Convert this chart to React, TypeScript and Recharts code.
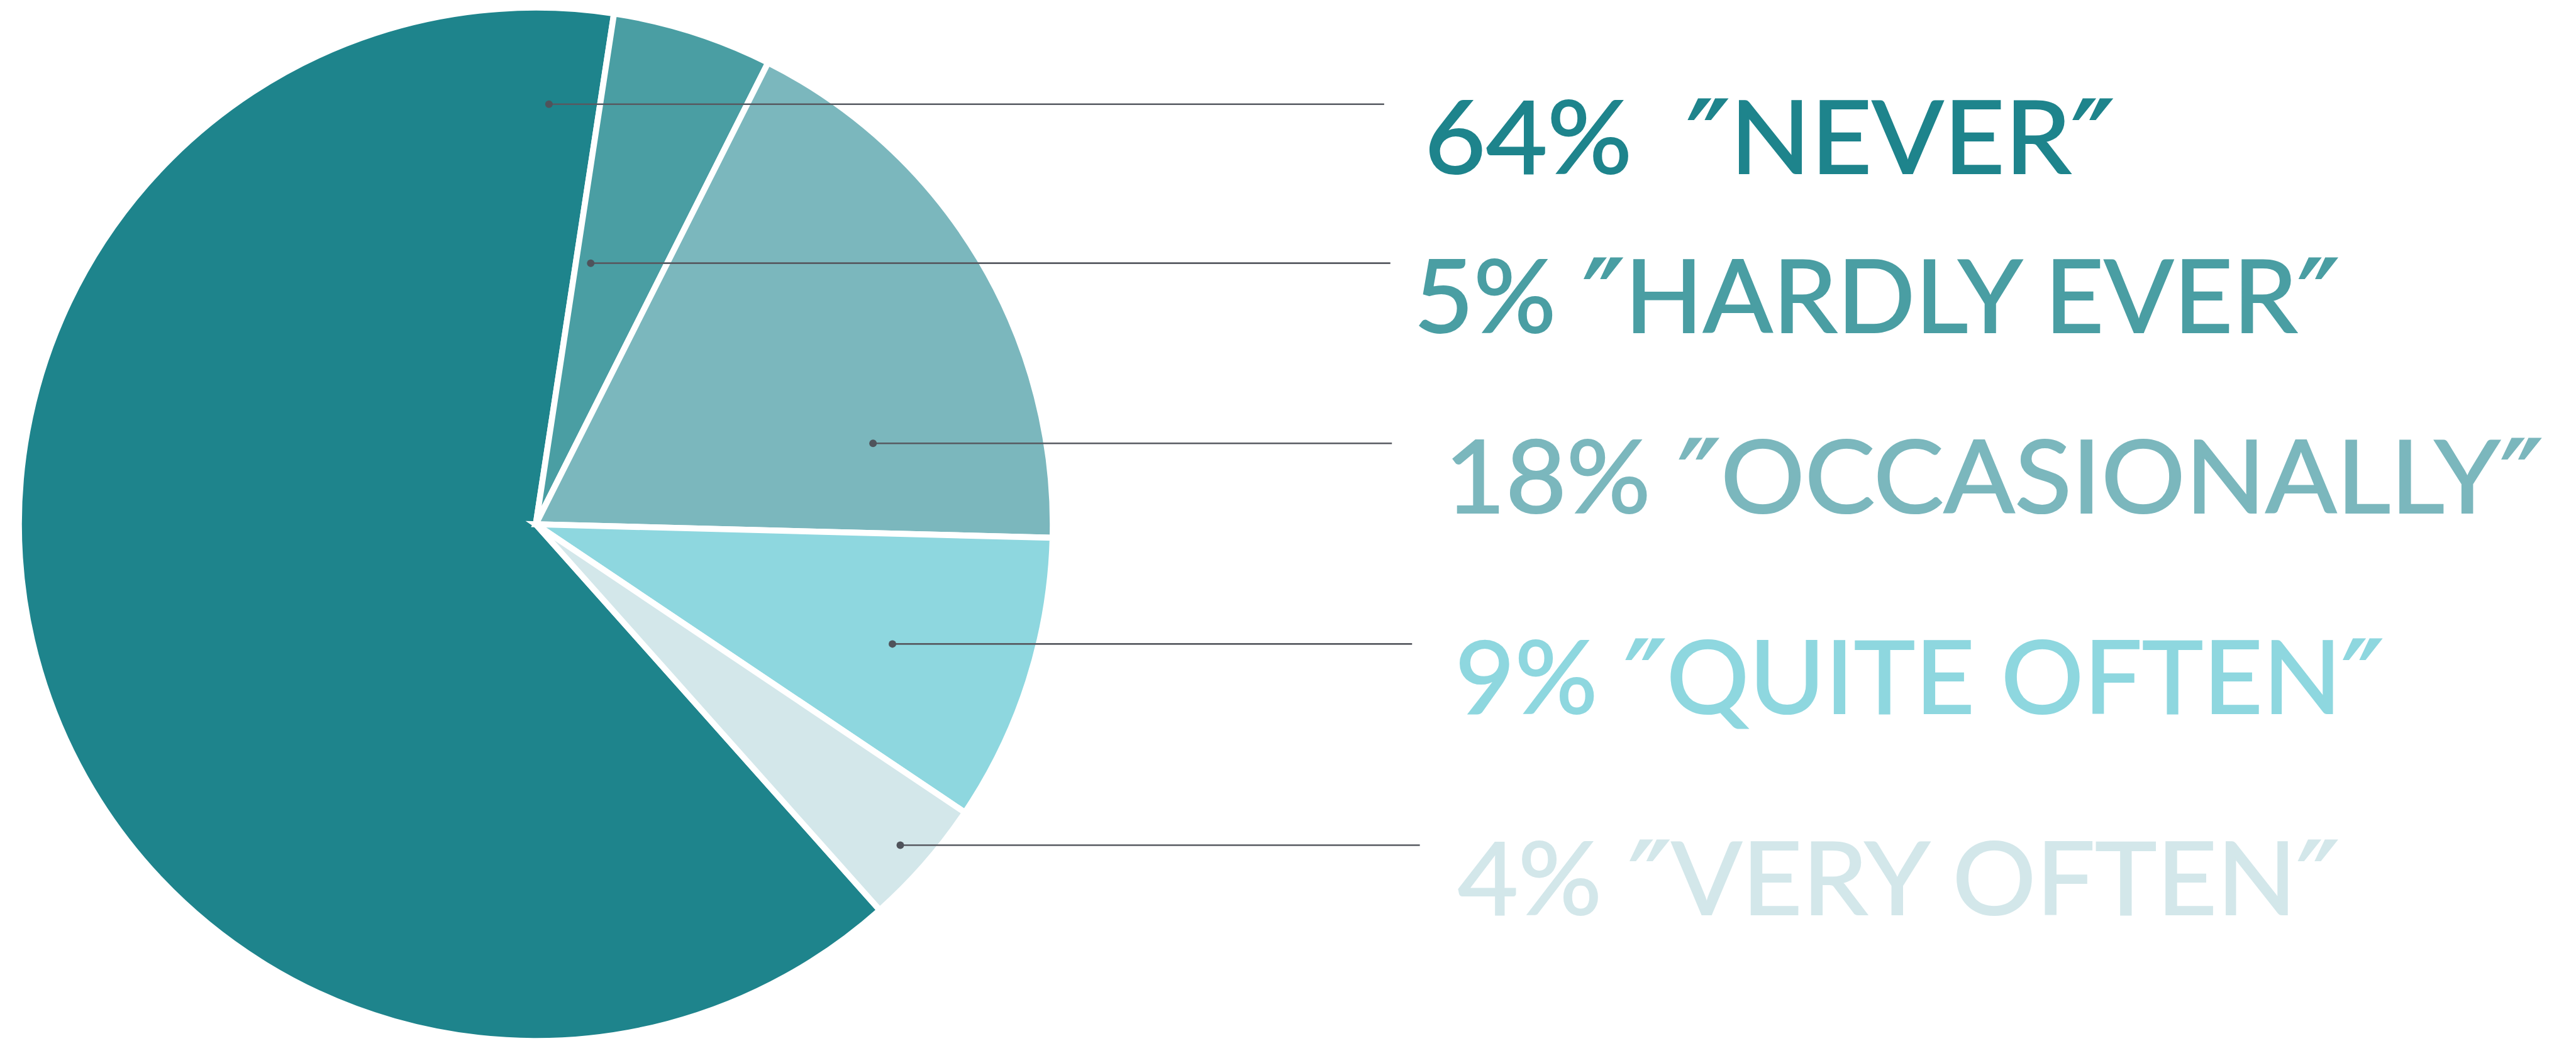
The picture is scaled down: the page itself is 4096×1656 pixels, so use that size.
import * as React from 'react';
import { PieChart, Pie, Cell } from 'recharts';

// survey answers, clockwise from the lower right
const categories = ['NEVER', 'HARDLY EVER', 'OCCASIONALLY', 'QUITE OFTEN', 'VERY OFTEN'];
const shares = [64, 5, 18, 9, 4];
const labelTexts = [
  '64%  ″NEVER″',
  '5% ″HARDLY EVER″',
  '18% ″OCCASIONALLY″',
  '9% ″QUITE OFTEN″',
  '4% ″VERY OFTEN″',
];

const fills = ['#1E848C', '#4A9EA3', '#7BB7BD', '#8ED7DF', '#D3E7EA'];

// callout placement, in units of the pie radius, relative to the centre
const callouts = [
  { dx: 0.0254, dy: -0.8129, lineEnd: 1.641, textX: 1.719, width: 1.335 },
  { dx: 0.1062, dy: -0.5053, lineEnd: 1.653, textX: 1.699, width: 1.79 },
  { dx: 0.6523, dy: -0.1567, lineEnd: 1.656, textX: 1.758, width: 2.125 },
  { dx: 0.6898, dy: 0.2316, lineEnd: 1.695, textX: 1.778, width: 1.797 },
  { dx: 0.705, dy: 0.6211, lineEnd: 1.71, textX: 1.783, width: 1.706 },
];

const W = 4096;
const H = 1656;
const R = 822;
const QUOTE_DROP = 12;

const data = categories.map((name, i) => ({ name, value: shares[i] }));

function Callout(props: any) {
  const { cx, cy, index } = props;
  const c = callouts[index];
  const x0 = cx + c.dx * R;
  const y0 = cy + c.dy * R;
  const parts = labelTexts[index].split(/(″)/).filter((s) => s !== '');
  return (
    <g>
      <line x1={x0} y1={y0} x2={cx + c.lineEnd * R} y2={y0} stroke="#575a61" strokeWidth={2.6} />
      <circle cx={x0} cy={y0} r={6} fill="#4F535B" />
      <text
        x={cx + c.textX * R}
        y={y0 + 0.1345 * R}
        fill={fills[index]}
        stroke={fills[index]}
        strokeWidth={2.2}
        fontSize={162}
        fontFamily="Lato, 'Open Sans', sans-serif"
        textLength={c.width * R}
        lengthAdjust="spacingAndGlyphs"
        style={{ whiteSpace: 'pre' }}
      >
        {parts.map((s, k) => {
          if (s === '″') {
            return (
              <tspan key={k} fontFamily="'DejaVu Sans', sans-serif" fontSize={178} dy={QUOTE_DROP}>
                {s}
              </tspan>
            );
          }
          return (
            <tspan key={k} dy={k > 0 && parts[k - 1] === '″' ? -QUOTE_DROP : undefined}>
              {s}
            </tspan>
          );
        })}
      </text>
    </g>
  );
}

export default function App() {
  return (
    <div style={{ position: 'absolute', left: 0, top: 0, width: W, height: H, background: '#fff' }}>
      <PieChart width={W} height={H} margin={{ top: 0, right: 0, bottom: 0, left: 0 }}>
        <Pie
          data={data}
          dataKey="value"
          nameKey="name"
          cx={852}
          cy={834}
          innerRadius={0}
          outerRadius={R}
          startAngle={-48.3}
          endAngle={-408.3}
          stroke="#ffffff"
          strokeWidth={9.6}
          label={Callout}
          labelLine={false}
          isAnimationActive={false}
        >
          {data.map((_, i) => (
            <Cell key={`cell-${i}`} fill={fills[i]} />
          ))}
        </Pie>
      </PieChart>
    </div>
  );
}
